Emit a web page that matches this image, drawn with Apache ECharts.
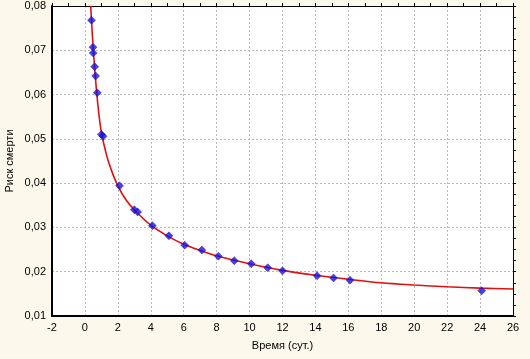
<!DOCTYPE html>
<html>
<head>
<meta charset="utf-8">
<script src="https://cdn.jsdelivr.net/npm/echarts@6/dist/echarts.min.js"></script>
<style>
  html, body { margin: 0; padding: 0; background: #fdf8ec; }
  #main { width: 530px; height: 359px; }
</style>
</head>
<body>
<div id="main"></div>
<script>
  // observed points (days, risk)
  const pointDays = [0.4, 0.49, 0.5, 0.59, 0.65, 0.75, 1.0, 1.1, 2.1, 3.0, 3.2, 4.1, 5.1, 6.06, 7.1, 8.1, 9.07, 10.1, 11.1, 12.0, 14.1, 15.1, 16.1, 24.1]
  const pointRisk = [0.0768, 0.0707, 0.0694, 0.0663, 0.0642, 0.0604, 0.0510, 0.0506, 0.0394, 0.0340, 0.0335, 0.0304, 0.0281, 0.0260, 0.0249, 0.0235, 0.0225, 0.0218, 0.0209, 0.0202, 0.0191, 0.0186, 0.0181, 0.0157]
  // fitted curve
  const curveDays = [0.35, 0.45, 0.55, 0.7, 0.85, 1.0, 1.3, 1.6, 2, 2.5, 3, 4, 5, 6, 7, 8, 10, 12, 14, 16, 18, 20, 22, 24, 26]
  const curveRisk = [0.0800, 0.0735, 0.0680, 0.0610, 0.0555, 0.0515, 0.0465, 0.0430, 0.0394, 0.0362, 0.0340, 0.0305, 0.0281, 0.0262, 0.0248, 0.0236, 0.0218, 0.0203, 0.0192, 0.0183, 0.0175, 0.0170, 0.0166, 0.0163, 0.0161]

  const chart = echarts.init(document.getElementById('main'))
  const txt = { color: '#000', fontSize: 11, fontFamily: 'Liberation Sans, Arial' }
  const gridLine = { show: true, lineStyle: { color: '#b8b8b8', type: [2, 2], width: 1 } }

  const option = {
    backgroundColor: '#fdf8ec',
    animation: false,
    grid: {
      left: 52, right: 17, top: 6, bottom: 43,
      outerBoundsMode: 'none', containLabel: false,
      show: true, backgroundColor: '#fff', borderWidth: 0
    },
    xAxis: [
      {
        type: 'value', min: -2, max: 26, interval: 2,
        name: 'Время (сут.)', nameLocation: 'middle', nameGap: 24, nameTextStyle: txt,
        nameMoveOverlap: false,
        axisLine: { onZero: false, lineStyle: { color: '#000', width: 2 } },
        axisTick: { show: false },
        axisLabel: Object.assign({ margin: 6 }, txt),
        splitLine: gridLine
      },
      {
        type: 'value', position: 'top', min: -2, max: 26, interval: 1,
        axisLine: { onZero: false, lineStyle: { color: '#000', width: 1 } },
        axisTick: { show: true, inside: false, length: 3, lineStyle: { color: '#000' } },
        axisLabel: { show: false },
        splitLine: { show: false }
      }
    ],
    yAxis: [
      {
        type: 'value', min: 0.01, max: 0.08, interval: 0.01,
        name: 'Риск смерти', nameLocation: 'middle', nameGap: 37, nameTextStyle: txt,
        nameMoveOverlap: false,
        axisLine: { onZero: false, lineStyle: { color: '#000', width: 2 } },
        axisTick: { show: false },
        axisLabel: Object.assign({ margin: 6, formatter: v => v.toFixed(2).replace('.', ',') }, txt),
        splitLine: gridLine
      },
      {
        type: 'value', position: 'right', min: 0.01, max: 0.08, interval: 0.0025,
        axisLine: { onZero: false, lineStyle: { color: '#000', width: 1 } },
        axisTick: { show: true, inside: false, length: 3, lineStyle: { color: '#000' } },
        axisLabel: { show: false },
        splitLine: { show: false }
      }
    ],
    series: [
      {
        type: 'line',
        data: curveDays.map((d, i) => [d, curveRisk[i]]),
        smooth: 0.3,
        showSymbol: false,
        lineStyle: { color: '#e01010', width: 1.6 },
        z: 2
      },
      {
        type: 'scatter',
        data: pointDays.map((d, i) => [d, pointRisk[i]]),
        symbol: 'diamond',
        symbolSize: 8,
        itemStyle: { color: '#1414e0', borderColor: '#3a0090', borderWidth: 0.5 },
        z: 3
      }
    ]
  }
  option && chart.setOption(option)
</script>
</body>
</html>
